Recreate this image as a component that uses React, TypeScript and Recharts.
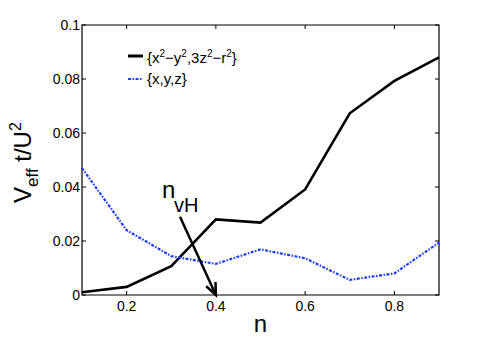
import React from 'react';
import {
  LineChart,
  Line,
  XAxis,
  YAxis,
  ReferenceArea,
  ReferenceLine,
  Legend,
} from 'recharts';

const nValues = [0.1, 0.2, 0.3, 0.4, 0.5, 0.6, 0.7, 0.8, 0.9];
const egValues = [0.001, 0.003, 0.0107, 0.028, 0.0268, 0.0391, 0.0673, 0.0793, 0.088];
const t2gValues = [0.047, 0.024, 0.0144, 0.0115, 0.0169, 0.0136, 0.0056, 0.008, 0.0194];
const xTicks = [0.2, 0.4, 0.6, 0.8];
const yTicks = [0, 0.02, 0.04, 0.06, 0.08, 0.1];
const arrowFrom = { x: 0.3196, y: 0.029 };
const arrowTo = { x: 0.4, y: 0 };

const data = nValues.map((n, i) => ({ n, eg: egValues[i], t2g: t2gValues[i] }));

const FONT = '"Liberation Sans", Arial, Helvetica, sans-serif';
const LEFT = 82;
const RIGHT = 439;
const TOP = 25;
const BOTTOM = 295;
const BLUE = '#1f3dff';

const YTick = (props: any) => {
  const { y, payload } = props;
  return (
    <g>
      <line x1={LEFT} x2={LEFT + 4} y1={y} y2={y} stroke="#000" />
      <line x1={RIGHT - 4} x2={RIGHT} y1={y} y2={y} stroke="#000" />
      <text x={LEFT - 2} y={y + 5} textAnchor="end" fontSize={14} fontFamily={FONT} fill="#000">
        {payload.value}
      </text>
    </g>
  );
};

const XTick = (props: any) => {
  const { x, payload } = props;
  return (
    <g>
      <line x1={x} x2={x} y1={BOTTOM} y2={BOTTOM - 4} stroke="#000" />
      <line x1={x} x2={x} y1={TOP} y2={TOP + 4} stroke="#000" />
      <text x={x} y={BOTTOM + 16} textAnchor="middle" fontSize={14} fontFamily={FONT} fill="#000">
        {payload.value}
      </text>
    </g>
  );
};

const ArrowNote = (props: any) => {
  const { x1, y1, x2, y2 } = props;
  const ang = Math.atan2(y2 - y1, x2 - x1);
  const len = 13;
  const spread = 0.4;
  const ax = x2 - len * Math.cos(ang - spread);
  const ay = y2 - len * Math.sin(ang - spread);
  const bx = x2 - len * Math.cos(ang + spread);
  const by = y2 - len * Math.sin(ang + spread);
  return (
    <g>
      <line x1={x1} y1={y1} x2={x2} y2={y2} stroke="#000" strokeWidth={2.5} />
      <polyline points={`${ax},${ay} ${x2},${y2} ${bx},${by}`} fill="none" stroke="#000" strokeWidth={2.5} />
      <text x={x1 - 18} y={y1 - 18.5} fontSize={24} fontFamily={FONT} fill="#000">n</text>
      <text x={x1 - 6} y={y1 - 5} fontSize={20} fontFamily={FONT} fill="#000">vH</text>
    </g>
  );
};

const LegendBox = () => (
  <div style={{ fontFamily: FONT, fontSize: 15, color: '#000', lineHeight: '21px' }}>
    <div style={{ display: 'flex', alignItems: 'center' }}>
      <svg width={18} height={6}>
        <line x1={1} x2={16} y1={3} y2={3} stroke="#000" strokeWidth={3} />
      </svg>
      <span style={{ marginLeft: 2 }}>
        {'{x'}<sup style={{ fontSize: 10 }}>2</sup>{'−y'}<sup style={{ fontSize: 10 }}>2</sup>
        {',3z'}<sup style={{ fontSize: 10 }}>2</sup>{'−r'}<sup style={{ fontSize: 10 }}>2</sup>{'}'}
      </span>
    </div>
    <div style={{ display: 'flex', alignItems: 'center' }}>
      <svg width={18} height={6}>
        <line x1={1} x2={16} y1={3} y2={3} stroke={BLUE} strokeWidth={2} strokeDasharray="3 1.5 1.5 1.5" />
      </svg>
      <span style={{ marginLeft: 2 }}>{'{x,y,z}'}</span>
    </div>
  </div>
);

const YLabel = () => (
  <text transform={`translate(31, 203) rotate(-90)`} fontFamily={FONT} fill="#000" fontSize={24}>
    <tspan>V</tspan>
    <tspan fontSize={17} dy={7}>eff</tspan>
    <tspan dy={-7}> t/U</tspan>
    <tspan fontSize={16} dy={-10}>2</tspan>
  </text>
);

export default function App() {
  return (
    <div style={{ position: 'absolute', left: 0, top: 0, width: 485, height: 338, background: '#fff' }}>
      <LineChart
        width={485}
        height={338}
        data={data}
        margin={{ top: TOP, right: 485 - RIGHT, bottom: 0, left: 0 }}
      >
        <XAxis
          dataKey="n"
          type="number"
          domain={[0.1, 0.9]}
          ticks={xTicks}
          height={338 - BOTTOM}
          axisLine={false}
          tickLine={false}
          tick={<XTick />}
          label={{ value: 'n', position: 'insideBottom', offset: 6, fontSize: 24, fontFamily: FONT, fill: '#000' }}
        />
        <YAxis
          type="number"
          domain={[0, 0.1]}
          ticks={yTicks}
          width={LEFT}
          axisLine={false}
          tickLine={false}
          tick={<YTick />}
          label={<YLabel />}
        />
        <ReferenceArea x1={0.1} x2={0.9} y1={0} y2={0.1} fill="none" stroke="#000" strokeWidth={1.2} />
        <Legend
          layout="horizontal"
          verticalAlign="middle"
          align="center"
          wrapperStyle={{ top: 43, left: 127, width: 200 }}
          content={<LegendBox />}
        />
        <Line
          dataKey="eg"
          stroke="#000"
          strokeWidth={2.6}
          dot={false}
          isAnimationActive={false}
        />
        <Line
          dataKey="t2g"
          stroke={BLUE}
          strokeWidth={2.2}
          strokeDasharray="3 1.5 1.5 1.5"
          dot={false}
          isAnimationActive={false}
        />
        <ReferenceLine segment={[arrowFrom, arrowTo]} shape={<ArrowNote />} />
      </LineChart>
    </div>
  );
}
